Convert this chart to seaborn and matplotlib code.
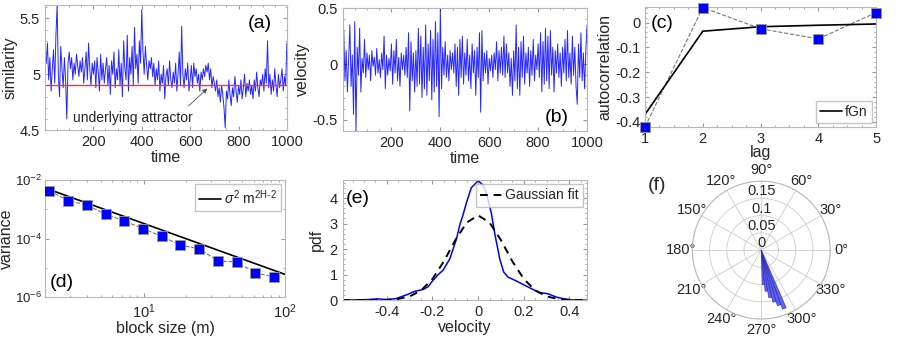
import numpy as np
import pandas as pd
import matplotlib
matplotlib.use("Agg")
import matplotlib.pyplot as plt
import seaborn as sns
from matplotlib.ticker import AutoMinorLocator, FixedLocator, NullFormatter

# ---- (a) similarity time series, read every 5 time steps ----
sim_time = list(range(5, 1001, 5))
similarity = [
    5.10, 5.28, 4.95, 5.15, 4.85, 5.05, 5.22, 4.92, 5.35, 5.62,
    5.00, 4.80, 5.25, 5.05, 4.88, 5.15, 4.95, 4.60, 5.10, 5.20,
    5.05, 5.15, 4.95, 5.10, 5.00, 5.18, 5.08, 4.98, 5.12, 5.02,
    5.15, 4.92, 5.05, 5.20, 4.95, 5.28, 5.05, 4.90, 5.10, 5.00,
    5.12, 4.88, 5.15, 5.02, 4.85, 5.18, 4.95, 5.10, 4.92, 5.05,
    5.15, 4.90, 5.08, 4.82, 5.12, 5.00, 5.20, 4.88, 5.05, 4.95,
    5.22, 4.90, 5.10, 4.80, 5.30, 5.05, 4.95, 5.35, 4.85, 5.15,
    5.00, 5.25, 4.90, 5.42, 5.05, 5.18, 4.92, 5.30, 5.10, 5.58,
    5.20, 5.00, 5.25, 5.08, 4.95, 5.12, 5.05, 5.15, 4.98, 5.10,
    4.90, 5.05, 4.95, 5.12, 4.85, 5.00, 4.92, 5.08, 4.78, 4.98,
    5.05, 4.90, 5.12, 4.95, 4.88, 5.02, 4.92, 5.10, 4.85, 5.00,
    5.20, 4.90, 5.43, 5.00, 4.88, 5.05, 4.95, 5.10, 4.85, 4.95,
    5.08, 4.88, 5.10, 4.98, 5.05, 4.92, 5.00, 4.85, 5.02, 4.95,
    5.05, 4.98, 5.08, 5.02, 5.10, 4.95, 5.05, 4.88, 4.98, 4.92,
    4.85, 4.95, 4.80, 4.88, 4.75, 4.90, 4.82, 4.70, 4.52, 4.85,
    4.78, 4.95, 4.82, 4.72, 4.88, 4.80, 4.98, 4.85, 4.75, 4.90,
    4.82, 4.95, 4.78, 4.88, 5.00, 4.80, 4.92, 4.85, 4.95, 4.82,
    4.90, 4.78, 4.95, 4.85, 5.02, 4.88, 4.80, 4.95, 4.90, 5.00,
    4.85, 5.05, 4.92, 5.30, 4.88, 5.00, 4.82, 4.95, 4.85, 5.05,
    4.90, 4.80, 5.00, 4.88, 4.95, 5.05, 4.85, 4.98, 4.90, 5.28,
]
attractor_level = 4.9

# ---- (b) velocity time series ----
vel_time = list(range(5, 1001, 5))
velocity = [
    0.30, -0.15, 0.12, -0.25, 0.05, 0.35, -0.20, 0.08, -0.45, 0.38,
    -0.60, 0.15, -0.10, 0.32, -0.25, 0.05, -0.08, 0.22, -0.12, 0.10,
    -0.05, 0.08, -0.15, 0.12, -0.02, 0.06, -0.10, 0.14, -0.08, 0.04,
    -0.12, 0.10, -0.05, 0.25, -0.22, 0.08, -0.10, 0.05, -0.06, 0.18,
    -0.18, 0.12, -0.08, 0.22, -0.15, 0.06, -0.20, 0.10, -0.05, 0.08,
    -0.10, 0.15, -0.12, 0.28, -0.42, 0.20, -0.15, 0.10, -0.25, 0.12,
    -0.20, 0.32, -0.18, 0.25, -0.30, 0.15, -0.22, 0.35, -0.28, 0.18,
    -0.15, 0.30, -0.32, 0.22, -0.25, 0.38, -0.20, 0.28, -0.47, 0.50,
    -0.22, 0.15, -0.10, 0.20, -0.12, 0.08, -0.15, 0.12, -0.05, 0.10,
    -0.08, 0.18, -0.20, 0.15, -0.28, 0.22, -0.12, 0.25, -0.18, 0.10,
    -0.10, 0.22, -0.15, 0.08, -0.22, 0.18, -0.08, 0.12, -0.28, 0.15,
    -0.12, 0.28, -0.43, 0.30, -0.15, 0.10, -0.08, 0.12, -0.18, 0.05,
    -0.06, 0.08, -0.12, 0.10, -0.05, 0.20, -0.15, 0.12, -0.08, 0.15,
    -0.10, 0.25, -0.12, 0.18, -0.08, 0.10, -0.20, 0.05, -0.28, 0.12,
    -0.15, 0.35, -0.22, 0.15, -0.28, 0.20, -0.12, 0.25, -0.18, 0.10,
    -0.08, 0.15, -0.20, 0.12, -0.10, 0.22, -0.15, 0.08, -0.05, 0.18,
    -0.12, 0.28, -0.25, 0.20, -0.18, 0.32, -0.15, 0.25, -0.22, 0.30,
    -0.10, 0.15, -0.25, 0.12, -0.08, 0.18, -0.12, 0.10, -0.20, 0.15,
    -0.08, 0.22, -0.15, 0.30, -0.12, 0.10, -0.18, 0.25, -0.10, 0.15,
    -0.20, -0.36, 0.18, -0.12, 0.28, -0.15, 0.10, -0.22, 0.12, 0.35,
]

# ---- (c) autocorrelation ----
lags = [1, 2, 3, 4, 5]
acf_data = [-0.42, 0.060, -0.025, -0.066, 0.040]
acf_fgn = [-0.37, -0.035, -0.017, -0.011, -0.006]

# ---- (d) aggregated variance ----
block_size = [2.15, 2.92, 3.96, 5.37, 7.3, 9.9, 13.4, 18.2, 24.7, 33.6, 45.5, 61.8, 83.9]
block_var = [4.3e-3, 2.0e-3, 1.4e-3, 6.9e-4, 4.0e-4, 2.2e-4, 1.2e-4,
             6.0e-5, 4.5e-5, 1.7e-5, 1.6e-5, 6.7e-6, 4.9e-6]
fit_m = [2.0, 10.0, 100.0]
fit_var = [5.4e-3, 3.3e-4, 6.0e-6]

# ---- (e) velocity pdf ----
pdf_v = [-0.594, -0.49, -0.44, -0.40, -0.36, -0.31, -0.28, -0.24, -0.22, -0.20,
         -0.175, -0.153, -0.124, -0.095, -0.08, -0.066, -0.05, -0.03, 0.0, 0.022,
         0.036, 0.058, 0.073, 0.095, 0.112, 0.131, 0.168, 0.20, 0.24, 0.27,
         0.306, 0.343, 0.386, 0.43, 0.477]
pdf_est = [0.0, 0.02, 0.05, 0.02, 0.06, 0.22, 0.34, 0.42, 0.52, 0.75,
           1.0, 1.18, 1.62, 2.4, 2.95, 3.35, 3.85, 4.4, 4.68, 4.5,
           4.2, 3.4, 2.6, 1.6, 1.1, 0.9, 0.75, 0.6, 0.42, 0.3,
           0.25, 0.12, 0.03, 0.0, 0.0]
gauss_v = [-0.594, -0.55, -0.50, -0.45, -0.40, -0.35, -0.30, -0.25, -0.20, -0.15,
           -0.10, -0.05, 0.0, 0.05, 0.10, 0.15, 0.20, 0.25, 0.30, 0.35,
           0.40, 0.45, 0.477]
gauss_pdf = [0.0, 0.0, 0.0, 0.002, 0.013, 0.047, 0.146, 0.38, 0.83, 1.52,
             2.35, 3.04, 3.32, 3.04, 2.35, 1.52, 0.83, 0.38, 0.146, 0.047,
             0.013, 0.002, 0.0]

# ---- (f) angular histogram ----
rose_angle = [273.6, 277.2, 280.8, 284.4, 288.0, 291.6]
rose_r = [0.10, 0.12, 0.14, 0.155, 0.168, 0.182]

BLUE = '#0000ff'
EDGE = '#b8b8b8'

sns.set_style("ticks")
plt.rcParams['font.family'] = ['Liberation Sans', 'DejaVu Sans']
plt.rcParams.update({
    'mathtext.fontset': 'custom',
    'mathtext.rm': 'Liberation Sans',
    'mathtext.it': 'Liberation Sans:italic',
    'font.size': 10,
    'axes.edgecolor': EDGE,
    'axes.linewidth': 0.8,
    'axes.labelcolor': '#262626',
    'xtick.color': '#9a9a9a',
    'ytick.color': '#9a9a9a',
    'xtick.labelcolor': '#262626',
    'ytick.labelcolor': '#262626',
    'xtick.direction': 'in',
    'ytick.direction': 'in',
    'xtick.top': True,
    'ytick.right': True,
    'xtick.major.size': 3,
    'ytick.major.size': 3,
    'xtick.minor.size': 1.5,
    'ytick.minor.size': 1.5,
    'xtick.labelsize': 10.5,
    'ytick.labelsize': 10.5,
    'axes.labelsize': 11.5,
    'legend.fontsize': 10,
})

fig = plt.figure(figsize=(8.99, 3.38), dpi=100)


def panel_label(ax, txt, x, y):
    ax.text(x, y, txt, transform=ax.transAxes, fontsize=14, color='black',
            ha='center', va='center')


# (a)
ax_a = fig.add_axes([0.0501, 0.615, 0.269, 0.370])
sim_df = pd.DataFrame({'time': sim_time, 'similarity': similarity})
sns.lineplot(data=sim_df, x='time', y='similarity', ax=ax_a, color=BLUE, lw=0.7, alpha=0.85)
ax_a.axhline(attractor_level, color='#ff3030', lw=1.0)
ax_a.set_xlim(0, 1000)
ax_a.set_ylim(4.5, 5.62)
ax_a.set_xticks([200, 400, 600, 800, 1000])
ax_a.set_yticks([4.5, 5, 5.5])
ax_a.set_yticklabels(['4.5', '5', '5.5'])
ax_a.set_xlabel('time', labelpad=1)
ax_a.set_ylabel('similarity', labelpad=2)
ax_a.xaxis.set_minor_locator(AutoMinorLocator(4))
ax_a.yaxis.set_minor_locator(AutoMinorLocator(5))
ax_a.annotate('', xy=(680, 4.89), xytext=(585, 4.70),
              arrowprops=dict(arrowstyle='-|>', color='#555555', lw=0.6,
                              mutation_scale=7))
ax_a.text(115, 4.61, 'underlying attractor', fontsize=10, ha='left', va='center')
panel_label(ax_a, '(a)', 0.887, 0.853)

# (b)
ax_b = fig.add_axes([0.381, 0.612, 0.272, 0.364])
vel_df = pd.DataFrame({'time': vel_time, 'velocity': velocity})
sns.lineplot(data=vel_df, x='time', y='velocity', ax=ax_b, color=BLUE, lw=0.7, alpha=0.85)
ax_b.set_xlim(0, 1000)
ax_b.set_ylim(-0.6, 0.5)
ax_b.set_xticks([200, 400, 600, 800, 1000])
ax_b.set_yticks([-0.5, 0, 0.5])
ax_b.set_yticklabels(['-0.5', '0', '0.5'])
ax_b.set_xlabel('time', labelpad=1)
ax_b.set_ylabel('velocity', labelpad=2)
ax_b.xaxis.set_minor_locator(AutoMinorLocator(4))
ax_b.yaxis.set_minor_locator(AutoMinorLocator(5))
panel_label(ax_b, '(b)', 0.875, 0.11)

# (c)
ax_c = fig.add_axes([0.7175, 0.624, 0.257, 0.355])
acf_df = pd.DataFrame({'lag': lags, 'data': acf_data, 'fgn': acf_fgn})
sns.lineplot(data=acf_df, x='lag', y='data', ax=ax_c, color='#777777', lw=0.8,
             linestyle='--', legend=False)
sns.scatterplot(data=acf_df, x='lag', y='data', ax=ax_c, color=BLUE, marker='s', s=45,
                edgecolor='#999999', linewidth=0.6, zorder=4, clip_on=False, legend=False)
sns.lineplot(data=acf_df, x='lag', y='fgn', ax=ax_c, color='black', lw=1.2, label='fGn')
ax_c.set_xlim(1, 5)
ax_c.set_ylim(-0.421, 0.062)
ax_c.set_xticks(lags)
ax_c.set_yticks([-0.4, -0.3, -0.2, -0.1, 0])
ax_c.set_yticklabels(['-0.4', '-0.3', '-0.2', '-0.1', '0'])
ax_c.set_xlabel('lag', labelpad=-1)
ax_c.set_ylabel('autocorrelation', labelpad=2)
ax_c.xaxis.set_minor_locator(AutoMinorLocator(4))
ax_c.yaxis.set_minor_locator(AutoMinorLocator(5))
ax_c.legend(loc='lower right', frameon=True, edgecolor=EDGE, fancybox=False,
            handlelength=1.6, handletextpad=0.2, borderpad=0.3, borderaxespad=0.3)
panel_label(ax_c, '(c)', 0.076, 0.86)

# (d)
ax_d = fig.add_axes([0.050, 0.121, 0.267, 0.346])
ax_d.set(xscale='log', yscale='log')
var_df = pd.DataFrame({'m': block_size, 'var': block_var})
fit_df = pd.DataFrame({'m': fit_m, 'var': fit_var})
sns.lineplot(data=var_df, x='m', y='var', ax=ax_d, color='#777777', lw=0.8,
             linestyle='--', legend=False)
sns.scatterplot(data=var_df, x='m', y='var', ax=ax_d, color=BLUE, marker='s', s=45,
                edgecolor='#999999', linewidth=0.6, zorder=4, legend=False)
sns.lineplot(data=fit_df, x='m', y='var', ax=ax_d, color='black', lw=1.2,
             label=r'$\sigma^2$ m$^{\mathrm{2H\text{-}2}}$')
ax_d.set_xlim(2, 100)
ax_d.set_ylim(1e-6, 1e-2)
ax_d.yaxis.set_major_locator(FixedLocator([1e-6, 1e-4, 1e-2]))
ax_d.yaxis.set_minor_locator(FixedLocator([1e-5, 1e-3]))
ax_d.yaxis.set_minor_formatter(NullFormatter())
ax_d.tick_params(axis='y', labelsize=9.5, pad=2)
ax_d.set_xlabel('block size (m)', labelpad=0)
ax_d.set_ylabel('variance')
ax_d.yaxis.set_label_coords(-0.13, 0.5)
ax_d.legend(loc='upper right', frameon=True, edgecolor=EDGE, fancybox=False,
            handlelength=1.6, handletextpad=0.2, borderpad=0.3, borderaxespad=0.3)
panel_label(ax_d, '(d)', 0.07, 0.123)

# (e)
ax_e = fig.add_axes([0.381, 0.112, 0.272, 0.355])
pdf_df = pd.DataFrame({'v': pdf_v, 'pdf': pdf_est})
gauss_df = pd.DataFrame({'v': gauss_v, 'pdf': gauss_pdf})
sns.lineplot(data=pdf_df, x='v', y='pdf', ax=ax_e, color=BLUE, lw=1.1, legend=False)
sns.lineplot(data=gauss_df, x='v', y='pdf', ax=ax_e, color='black', lw=1.4,
             linestyle=(0, (4, 3)), label='Gaussian fit')
ax_e.set_xlim(-0.594, 0.477)
ax_e.set_ylim(0, 4.7)
ax_e.set_xticks([-0.4, -0.2, 0, 0.2, 0.4])
ax_e.set_xticklabels(['-0.4', '-0.2', '0', '0.2', '0.4'])
ax_e.set_yticks([0, 1, 2, 3, 4])
ax_e.set_xlabel('velocity', labelpad=1)
ax_e.set_ylabel('pdf', labelpad=4)
ax_e.xaxis.set_minor_locator(AutoMinorLocator(4))
ax_e.yaxis.set_minor_locator(AutoMinorLocator(5))
ax_e.legend(loc='upper right', frameon=True, edgecolor=EDGE, fancybox=False,
            handlelength=1.6, handletextpad=0.2, borderpad=0.3, borderaxespad=0.3)
panel_label(ax_e, '(e)', 0.064, 0.847)

# (f)
ax_f = fig.add_axes([0.770, 0.056, 0.1535, 0.408], projection='polar')
ax_f.bar(np.deg2rad(rose_angle), rose_r, width=np.deg2rad(3.6), color='#4a4af0',
         alpha=0.85, edgecolor='#2a2ab8', linewidth=0.5, zorder=3)
ax_f.set_ylim(0, 0.2)
ax_f.set_thetagrids(range(0, 360, 30), fontsize=10.5)
ax_f.set_rgrids([0, 0.05, 0.1, 0.15, 0.2], labels=['0', '0.05', '0.1', '0.15', ''],
                angle=90, fontsize=10.5)
for lbl in ax_f.get_yticklabels():
    lbl.set_ha('center')
ax_f.tick_params(axis='x', pad=1)
ax_f.grid(color='#cccccc', lw=0.6)
ax_f.spines['polar'].set_color('#bbbbbb')
fig.text(656.7 / 899, 1 - 185 / 338, '(f)', fontsize=14, ha='center', va='center')

fig.savefig('out.png', dpi=100)
